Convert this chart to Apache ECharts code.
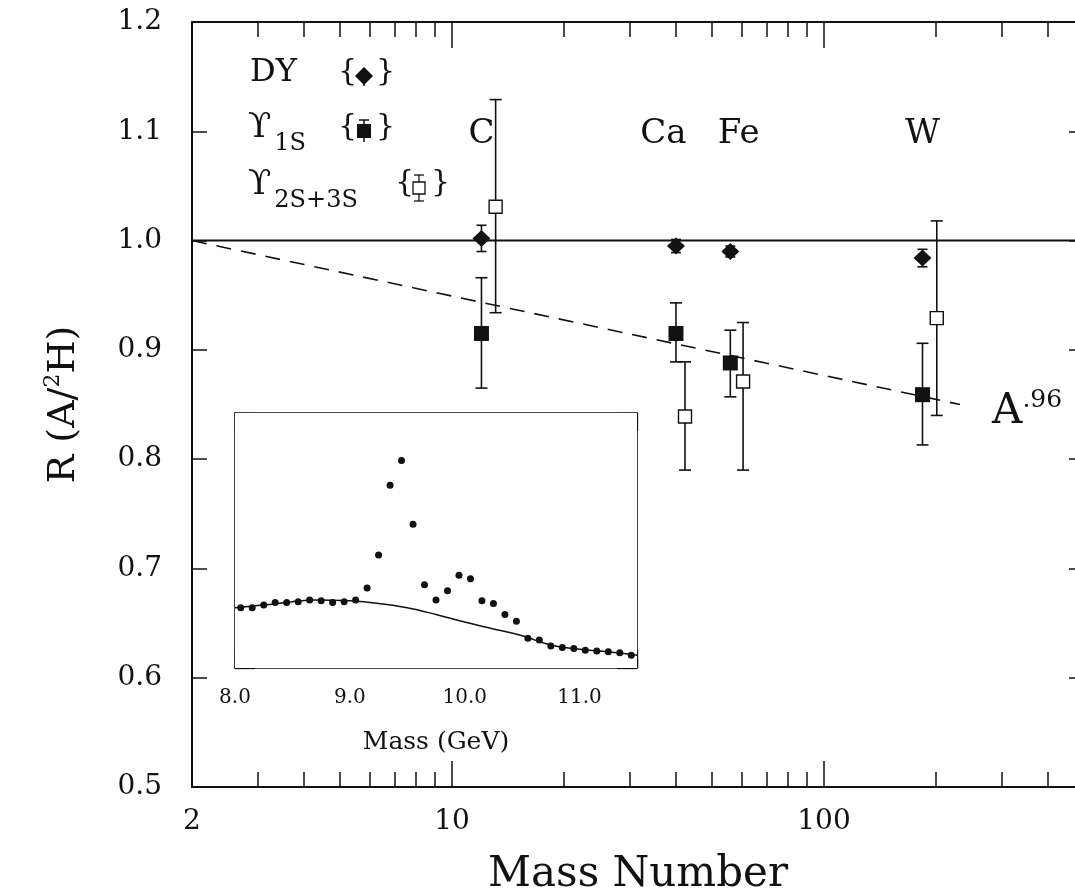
<!DOCTYPE html>
<html><head><meta charset="utf-8">
<script src="https://cdn.jsdelivr.net/npm/echarts@6/dist/echarts.min.js"></script>
<style>html,body{margin:0;padding:0;background:#fff}#c{width:1075px;height:895px}</style>
</head><body><div id="c"></div>
<script>
// ---- main panel data ----
const nuclei = ['C', 'Ca', 'Fe', 'W'];
const dyA = [12, 40, 56, 184];
const dyR = [1.002, 0.995, 0.990, 0.984];
const dyLo = [0.990, 0.989, 0.985, 0.976];
const dyHi = [1.014, 1.001, 0.995, 0.992];
const ups1sA = [12, 40, 56, 184];
const ups1sR = [0.915, 0.915, 0.888, 0.859];
const ups1sLo = [0.865, 0.889, 0.857, 0.813];
const ups1sHi = [0.966, 0.943, 0.918, 0.906];
const ups23A = [13.1, 42.3, 60.6, 201];
const ups23R = [1.031, 0.839, 0.871, 0.929];
const ups23Lo = [0.934, 0.790, 0.790, 0.840];
const ups23Hi = [1.129, 0.889, 0.925, 1.018];
const labelA = [12, 37, 59, 184];
const labelR = [1.097, 1.097, 1.097, 1.097];
const refA = [2, 500];
const refR = [1.0, 1.0];
const fitA = [2, 232];
const fitR = [1.0, 0.850];
const fitLabelPos = [283, 0.843];
const xMajorTicks = [10, 100];
const xMinorTicks = [3, 4, 5, 6, 7, 8, 9, 20, 30, 40, 50, 60, 70, 80, 90, 200, 300, 400];
const xTickLabels = [2, 10, 100];

// ---- inset data ----
const insetMass = [8.05, 8.15, 8.25, 8.35, 8.45, 8.55, 8.65, 8.75, 8.85, 8.95, 9.05, 9.15, 9.25, 9.35, 9.45, 9.55, 9.65, 9.75, 9.85, 9.95, 10.05, 10.15, 10.25, 10.35, 10.45, 10.55, 10.65, 10.75, 10.85, 10.95, 11.05, 11.15, 11.25, 11.35, 11.45];
const insetCounts = [0.71, 0.71, 0.74, 0.77, 0.77, 0.78, 0.80, 0.79, 0.77, 0.78, 0.80, 0.94, 1.33, 2.15, 2.44, 1.69, 0.98, 0.80, 0.91, 1.09, 1.05, 0.79, 0.76, 0.63, 0.55, 0.35, 0.33, 0.26, 0.24, 0.23, 0.21, 0.20, 0.19, 0.18, 0.15];
const curveMass = [8.0, 8.25, 8.5, 8.7, 9.0, 9.25, 9.5, 9.75, 10.0, 10.25, 10.5, 10.75, 11.0, 11.25, 11.5];
const curveVal = [0.71, 0.74, 0.78, 0.80, 0.79, 0.76, 0.71, 0.63, 0.54, 0.46, 0.38, 0.27, 0.22, 0.19, 0.15];

const INK = '#111';
const FONT = 'DejaVu Serif';
const zip = (a, b) => a.map((v, i) => [v, b[i]]);
const zip3 = (a, b, c) => a.map((v, i) => [v, b[i], c[i]]);

function errRender(capW, lw) {
  return function (params, api) {
    const x = api.value(0), lo = api.value(1), hi = api.value(2);
    const p1 = api.coord([x, hi]), p2 = api.coord([x, lo]);
    const st = { stroke: INK, lineWidth: lw };
    return { type: 'group', children: [
      { type: 'line', shape: { x1: p1[0], y1: p1[1], x2: p2[0], y2: p2[1] }, style: st },
      { type: 'line', shape: { x1: p1[0] - capW, y1: p1[1], x2: p1[0] + capW, y2: p1[1] }, style: st },
      { type: 'line', shape: { x1: p2[0] - capW, y1: p2[1], x2: p2[0] + capW, y2: p2[1] }, style: st }
    ]};
  };
}

const logBase = { gridIndex: 0, type: 'log', logBase: 10, min: 2, max: 500, splitLine: { show: false } };
const axLine = { show: true, lineStyle: { color: INK, width: 2 } };
const subRich = (size) => ({
  u: { fontFamily: FONT, fontSize: 34, fill: INK, color: INK, lineHeight: 40 },
  s: { fontFamily: FONT, fontSize: size, fill: INK, color: INK, lineHeight: 40, verticalAlign: 'bottom', padding: [0, 0, -8, 3] }
});

const option = {
  backgroundColor: '#fff',
  animation: false,
  grid: [
    { left: 192, top: 22, width: 892, height: 765, show: false, outerBoundsMode: 'none', containLabel: false },
    { left: 235, top: 413, width: 402, height: 255, show: true, backgroundColor: '#fff', borderWidth: 0, z: 1, outerBoundsMode: 'none', containLabel: false }
  ],
  xAxis: [
    Object.assign({}, logBase, { position: 'bottom', axisLine: axLine,
      axisTick: { inside: true, length: 26, customValues: xMajorTicks, lineStyle: { color: INK, width: 1.5 } },
      axisLabel: { customValues: xTickLabels, color: INK, fontFamily: FONT, fontSize: 28, margin: 21, formatter: v => String(Math.round(v)) },
      name: 'Mass Number', nameLocation: 'middle', nameGap: 67,
      nameTextStyle: { color: INK, fontFamily: FONT, fontSize: 42 } }),
    Object.assign({}, logBase, { position: 'bottom', axisLine: { show: false },
      axisTick: { inside: true, length: 15, customValues: xMinorTicks, lineStyle: { color: INK, width: 1.5 } },
      axisLabel: { show: false } }),
    Object.assign({}, logBase, { position: 'top', axisLine: axLine,
      axisTick: { inside: true, length: 26, customValues: xMajorTicks, lineStyle: { color: INK, width: 1.5 } },
      axisLabel: { show: false } }),
    Object.assign({}, logBase, { position: 'top', axisLine: { show: false },
      axisTick: { inside: true, length: 15, customValues: xMinorTicks, lineStyle: { color: INK, width: 1.5 } },
      axisLabel: { show: false } }),
    { gridIndex: 1, type: 'value', min: 8, max: 11.5, interval: 0.5, position: 'bottom',
      axisLine: { show: true, lineStyle: { color: INK, width: 1.6 } },
      axisTick: { inside: true, length: 9, lineStyle: { color: INK, width: 1.3 } },
      axisLabel: { color: INK, fontFamily: FONT, fontSize: 20, margin: 20,
        formatter: v => (Math.abs(v - Math.round(v)) < 1e-6 && v < 11.4) ? v.toFixed(1) : '' },
      splitLine: { show: false },
      name: 'Mass (GeV)', nameLocation: 'middle', nameGap: 62,
      nameTextStyle: { color: INK, fontFamily: FONT, fontSize: 25 } },
    { gridIndex: 1, type: 'value', min: 8, max: 11.5, interval: 1, position: 'bottom',
      axisLine: { show: false },
      axisTick: { inside: true, length: 18, lineStyle: { color: INK, width: 1.3 } },
      axisLabel: { show: false }, splitLine: { show: false } },
    { gridIndex: 1, type: 'value', min: 8, max: 11.5, interval: 0.5, position: 'top',
      axisLine: { show: true, lineStyle: { color: INK, width: 1.6 } },
      axisTick: { inside: true, length: 18, lineStyle: { color: INK, width: 1.3 } },
      axisLabel: { show: false }, splitLine: { show: false } }
  ],
  yAxis: [
    { gridIndex: 0, type: 'value', min: 0.5, max: 1.2, interval: 0.1, position: 'left',
      axisLine: axLine,
      axisTick: { inside: true, length: 15, lineStyle: { color: INK, width: 1.5 } },
      axisLabel: { color: INK, fontFamily: FONT, fontSize: 28, margin: 30, formatter: v => v.toFixed(1) },
      splitLine: { show: false },
      name: 'R (A/{s|2}H)', nameLocation: 'middle', nameGap: 106, nameRotate: 90,
      nameTextStyle: { color: INK, fontFamily: FONT, fontSize: 38, lineHeight: 44,
        rich: { s: { fontSize: 22, fontFamily: FONT, color: INK, verticalAlign: 'top', lineHeight: 26 } } } },
    { gridIndex: 0, type: 'value', min: 0.5, max: 1.2, interval: 0.1, position: 'right',
      axisLine: axLine,
      axisTick: { inside: true, length: 15, lineStyle: { color: INK, width: 1.5 } },
      axisLabel: { show: false }, splitLine: { show: false } },
    { gridIndex: 1, type: 'value', min: 0, max: 3, interval: 1, position: 'left',
      axisLine: { show: true, lineStyle: { color: INK, width: 1.6 } },
      axisTick: { inside: true, length: 20, lineStyle: { color: INK, width: 1.3 } },
      axisLabel: { show: false }, splitLine: { show: false } },
    { gridIndex: 1, type: 'value', min: 0, max: 3, interval: 1, position: 'right',
      axisLine: { show: true, lineStyle: { color: INK, width: 1.6 } },
      axisTick: { inside: true, length: 20, lineStyle: { color: INK, width: 1.3 } },
      axisLabel: { show: false }, splitLine: { show: false } }
  ],
  series: [
    { type: 'line', xAxisIndex: 0, yAxisIndex: 0, data: zip(refA, refR), symbol: 'none',
      lineStyle: { color: INK, width: 2 }, z: 2 },
    { type: 'line', xAxisIndex: 0, yAxisIndex: 0, data: zip(fitA, fitR), symbol: 'none',
      lineStyle: { color: INK, width: 1.6, type: [15, 10] }, z: 2 },
    { type: 'custom', xAxisIndex: 0, yAxisIndex: 0, data: zip3(dyA, dyLo, dyHi),
      encode: { x: 0, y: [1, 2] }, renderItem: errRender(5, 1.6), z: 3 },
    { type: 'custom', xAxisIndex: 0, yAxisIndex: 0, data: zip3(ups1sA, ups1sLo, ups1sHi),
      encode: { x: 0, y: [1, 2] }, renderItem: errRender(6, 1.6), z: 3 },
    { type: 'custom', xAxisIndex: 0, yAxisIndex: 0, data: zip3(ups23A, ups23Lo, ups23Hi),
      encode: { x: 0, y: [1, 2] }, renderItem: errRender(6, 1.6), z: 3 },
    { type: 'scatter', xAxisIndex: 0, yAxisIndex: 0, data: zip(dyA, dyR), symbol: 'diamond',
      symbolSize: [18, 17], itemStyle: { color: INK, opacity: 1 }, z: 5 },
    { type: 'scatter', xAxisIndex: 0, yAxisIndex: 0, data: zip(ups1sA, ups1sR), symbol: 'rect',
      symbolSize: 15, itemStyle: { color: INK, opacity: 1 }, z: 5 },
    { type: 'scatter', xAxisIndex: 0, yAxisIndex: 0, data: zip(ups23A, ups23R), symbol: 'rect',
      symbolSize: 13, itemStyle: { color: '#fff', borderColor: INK, borderWidth: 1.4, opacity: 1 }, z: 5 },
    { type: 'scatter', xAxisIndex: 0, yAxisIndex: 0, symbolSize: 0, itemStyle: { opacity: 1 },
      data: labelA.map((a, i) => ({ value: [a, labelR[i]], name: nuclei[i] })),
      label: { show: true, position: 'inside', formatter: p => p.name, color: INK, fontFamily: FONT, fontSize: 34, opacity: 1 }, z: 6 },
    { type: 'scatter', xAxisIndex: 0, yAxisIndex: 0, symbolSize: 0, itemStyle: { opacity: 1 },
      data: [{ value: fitLabelPos, name: 'A.96' }],
      label: { show: true, position: 'right', distance: 0, formatter: '{a|A}{b|.96}', rich: {
        a: { fontFamily: FONT, fontSize: 42, color: INK, lineHeight: 48 },
        b: { fontFamily: FONT, fontSize: 25, color: INK, verticalAlign: 'top', lineHeight: 30 } } }, z: 6 },
    { type: 'line', xAxisIndex: 4, yAxisIndex: 2, data: zip(curveMass, curveVal), symbol: 'none',
      smooth: 0.4, lineStyle: { color: INK, width: 1.5 }, z: 4 },
    { type: 'scatter', xAxisIndex: 4, yAxisIndex: 2, data: zip(insetMass, insetCounts), symbol: 'circle',
      symbolSize: 7, itemStyle: { color: INK, opacity: 1 }, z: 5 }
  ],
  graphic: [
    { type: 'text', left: 250, top: 57, style: { text: 'DY', fontFamily: FONT, fontSize: 32, fill: INK } },
    { type: 'text', left: 248, top: 111, style: { text: '{u|ϒ}{s|1S}', rich: subRich(24) } },
    { type: 'text', left: 248, top: 168, style: { text: '{u|ϒ}{s|2S+3S}', rich: subRich(24) } },
    // legend symbols
    { type: 'text', left: 338, top: 57, style: { text: '{', fontFamily: FONT, fontSize: 30, fill: INK } },
    { type: 'text', left: 376, top: 57, style: { text: '}', fontFamily: FONT, fontSize: 30, fill: INK } },
    { type: 'line', shape: { x1: 364, y1: 68, x2: 364, y2: 86 }, style: { stroke: INK, lineWidth: 1.5 } },
    { type: 'polygon', shape: { points: [[364, 67], [373, 76], [364, 85], [355, 76]] }, style: { fill: INK } },
    { type: 'text', left: 338, top: 112, style: { text: '{', fontFamily: FONT, fontSize: 30, fill: INK } },
    { type: 'text', left: 376, top: 112, style: { text: '}', fontFamily: FONT, fontSize: 30, fill: INK } },
    { type: 'line', shape: { x1: 364, y1: 120, x2: 364, y2: 142 }, style: { stroke: INK, lineWidth: 1.5 } },
    { type: 'line', shape: { x1: 359, y1: 120, x2: 369, y2: 120 }, style: { stroke: INK, lineWidth: 1.5 } },
    { type: 'rect', shape: { x: 357, y: 124, width: 14, height: 14 }, style: { fill: INK } },
    { type: 'text', left: 395, top: 168, style: { text: '{', fontFamily: FONT, fontSize: 30, fill: INK } },
    { type: 'text', left: 431, top: 168, style: { text: '}', fontFamily: FONT, fontSize: 30, fill: INK } },
    { type: 'line', shape: { x1: 419, y1: 175, x2: 419, y2: 201 }, style: { stroke: INK, lineWidth: 1.3 } },
    { type: 'line', shape: { x1: 414, y1: 175, x2: 424, y2: 175 }, style: { stroke: INK, lineWidth: 1.3 } },
    { type: 'line', shape: { x1: 414, y1: 201, x2: 424, y2: 201 }, style: { stroke: INK, lineWidth: 1.3 } },
    { type: 'rect', shape: { x: 413, y: 182, width: 12, height: 12 }, style: { fill: '#fff', stroke: INK, lineWidth: 1.3 } }
  ]
};

const chart = echarts.init(document.getElementById('c'), null, { renderer: 'canvas' });
chart.setOption(option);
</script>
</body></html>
